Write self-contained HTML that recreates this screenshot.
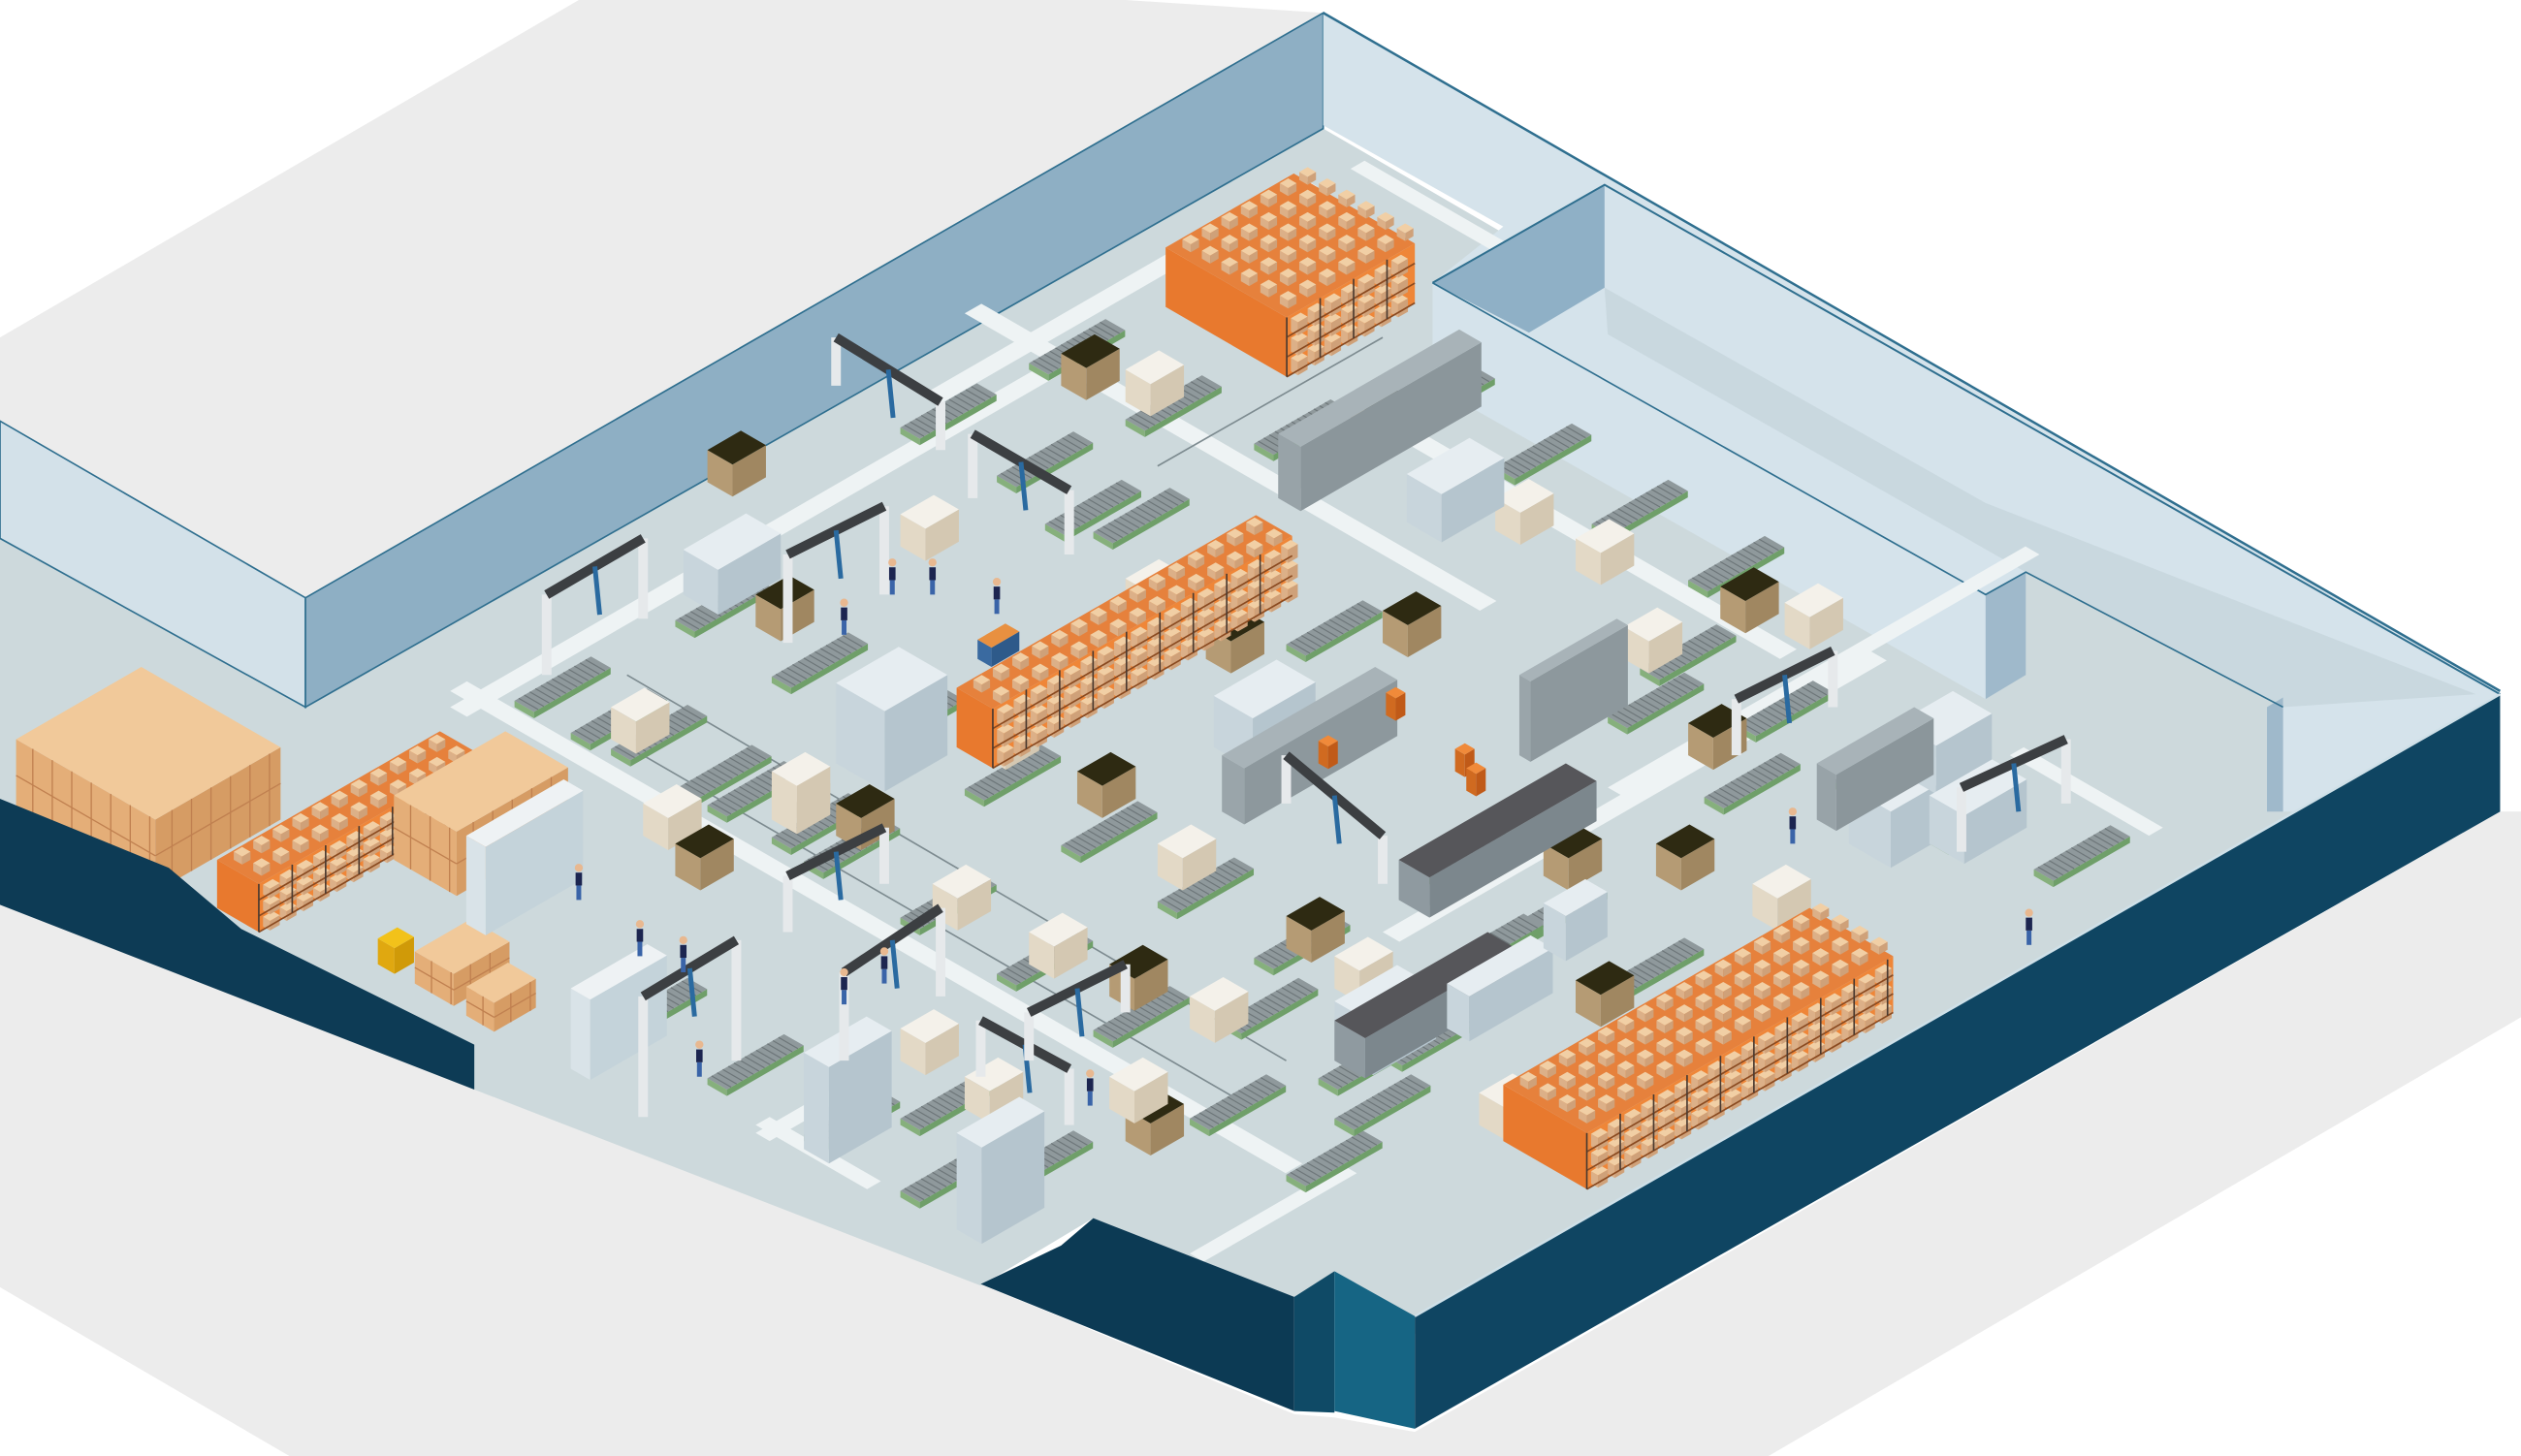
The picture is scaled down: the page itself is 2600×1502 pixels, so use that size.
<!DOCTYPE html>
<html><head><meta charset="utf-8"><style>
html,body{margin:0;padding:0;background:#fff;overflow:hidden}
svg{display:block}
</style></head><body>
<svg id="s" width="2600" height="1502" viewBox="0 0 1568 906" preserveAspectRatio="none" xmlns="http://www.w3.org/2000/svg">
<rect width="1568" height="906" fill="#ffffff"/>
<polygon points="0,210 360,0 700,0 823,8 190,372 0,262" fill="#ececec"/>
<polygon points="0,560 295,678 610,799 805,880 830,882 880,891 1555,505 1568,505 1568,633 1100,906 180,906 0,801" fill="#ececec"/>
<polygon points="0,330 190,440 823,80 1555,505 880,830 830,791 805,807 680,758 610,800 295,678 150,578 105,540 0,497" fill="#cdd9dc"/>
<polygon points="0,262 190,372 190,440 0,335" fill="#d3e1e9" stroke="#2f6f8f" stroke-width="1"/>
<polygon points="190,372 823,8 823,80 190,440" fill="#8eafc4" stroke="#2f6f8f" stroke-width="1"/>
<polygon points="823,8 1555,430 1555,505 1420,505 1420,440 1260,356 1235,370 1235,435 891,240 891,176 935,141 823,78" fill="#d5e3eb"/>
<polygon points="998,179 1235,313 1540,432 1420,440 1260,356 1000,208" fill="#c9d8df"/>
<polygon points="891,176 998,115 998,179 951,207" fill="#8fb0c6"/>
<polygon points="1235,370 1260,356 1260,420 1235,435" fill="#9fb9cb"/>
<polygon points="1410,440 1420,434 1420,505 1410,505" fill="#9fb9cb"/>
<polyline points="823,8 1555,430" fill="none" stroke="#2f6f8f" stroke-width="1.5"/>
<polyline points="891,176 998,115 1555,432" fill="none" stroke="#2f6f8f" stroke-width="1.2"/>
<polyline points="891,176 1235,370 1260,356 1420,440" fill="none" stroke="#2f6f8f" stroke-width="1"/>
<g id="g"></g>
<g id="fw">
<polygon points="0,497 105,540 150,578 295,650 295,678 0,563" fill="#0d3b55"/>
<polygon points="610,799 660,775 680,758 805,807 805,878" fill="#0c3a54"/>
<polygon points="805,807 830,791 830,879 805,878" fill="#0f4a66"/>
<polygon points="830,791 880,819 880,889 830,878" fill="#166584"/>
<polygon points="880,819 1555,432 1555,505 880,889" fill="#0f4562"/>
<polyline points="880,819 1555,432" stroke="#cfe0e8" stroke-width="1.5" fill="none"/>
</g>
</svg>
<script>
const NS="http://www.w3.org/2000/svg",g=document.getElementById('g');
const ux=0.866,uy=0.5,vx=0.866,vy=-0.5;
function poly(pts,f){const p=document.createElementNS(NS,'polygon');p.setAttribute('points',pts.map(a=>a[0].toFixed(1)+','+a[1].toFixed(1)).join(' '));p.setAttribute('fill',f);g.appendChild(p);}
function line(x1,y1,x2,y2,c,w){const l=document.createElementNS(NS,'line');l.setAttribute('x1',x1);l.setAttribute('y1',y1);l.setAttribute('x2',x2);l.setAttribute('y2',y2);l.setAttribute('stroke',c);l.setAttribute('stroke-width',w);g.appendChild(l);}
function box(x,y,w,d,h,top,left,right){
 const A=[x,y],B=[x+w*ux,y+w*uy],C=[B[0]+d*vx,B[1]+d*vy],D=[x+d*vx,y+d*vy];
 const up=p=>[p[0],p[1]-h];
 poly([A,B,up(B),up(A)],left);poly([B,C,up(C),up(B)],right);poly([up(A),up(B),up(C),up(D)],top);}
function flat(x,y,w,d,c){box(x,y,w,d,0,c,c,c);}
function au(x,y,len,wd){flat(x,y,len,wd,'#eef3f4');}
function av(x,y,len,wd){flat(x,y,wd,len,'#eef3f4');}
au(280,430,600,12);av(280,440,440,12);
au(600,195,370,12);au(830,250,320,12);av(860,580,350,12);
av(740,780,110,10);av(1000,490,300,10);av(575,245,270,12);
au(1250,470,100,10);au(840,105,100,10);av(470,705,70,10);
au(470,700,80,10);
line(390,420,800,660,'#7d8b90',1);line(400,470,780,690,'#7d8b90',1);line(720,290,860,210,'#7d8b90',1);
function conv(x,y,w,d){box(x,y,w,d,4,'#8f999c','#86b07c','#6f9f69');
 for(let i=3;i<d;i+=4){const p=[x+i*vx,y+i*vy-4];line(p[0],p[1],p[0]+w*ux,p[1]+w*uy,'#6d7679',0.7);}}
const cv=[[320,440],[355,460],[380,470],[420,495],[440,505],[480,525],[500,540],[560,575],[620,610],[680,645],[420,390],[480,425],[540,460],[600,495],[660,530],[720,565],[780,600],[380,640],[440,675],[500,710],[560,745],[620,300],[680,335],[740,370],[800,405],[870,260],[930,295],[990,330],[1050,365],[640,230],[700,265],[560,270],[760,640],[820,675],[880,545],[940,580],[1000,615],[1020,420],[1080,455],[1140,490],[1200,525],[1265,545],[740,700],[800,735],[860,660],[560,700],[620,735],[650,330],[830,700],[900,600],[780,280],[1000,450],[1060,500]];
cv.forEach(c=>conv(c[0],c[1],14,55));
const bx=[[380,460,'w'],[470,390,'d'],[560,340,'w'],[440,300,'d'],[700,380,'w'],[750,410,'d'],[610,470,'w'],[670,500,'d'],[720,545,'w'],[480,510,'w'],[520,520,'d'],[580,570,'w'],[640,600,'w'],[690,620,'d'],[740,640,'w'],[800,590,'d'],[830,615,'w'],[1010,410,'w'],[1070,385,'d'],[1110,395,'w'],[1050,470,'d'],[1030,545,'d'],[1090,570,'w'],[930,330,'w'],[980,355,'w'],[840,270,'d'],[700,250,'w'],[660,240,'d'],[860,400,'d'],[920,700,'w'],[980,630,'d'],[960,545,'d'],[400,520,'w'],[420,545,'d'],[560,660,'w'],[700,710,'d'],[690,690,'w'],[600,690,'w'],[480,500,'w']];
bx.forEach(b=>{if(b[2]=='w')box(b[0],b[1],18,24,20,'#f4f1ea','#e3d9c6','#d4c8b2');else box(b[0],b[1],18,24,20,'#2e2a12','#b59b74','#a08761');});
function rack(x,y,w,d,h){box(x,y,w,d,h,'#e6813c','#e8792e','#ef8638');
 const lv=3;
 for(let k=0;k<lv;k++){const yy=h*k/lv;
  for(let i=3;i<d-6;i+=12){const px=x+w*ux+i*vx,py=y+w*uy+i*vy-yy-2;box(px,py,5,7,h/lv-4,'#f1cfa5','#dcb088','#cfa179');}
  line(x+w*ux,y+w*uy-yy,x+w*ux+d*vx,y+w*uy+d*vy-yy,'#8a4a20',1);}
 for(let i=0;i<=d;i+=24){const px=x+w*ux+i*vx,py=y+w*uy+i*vy;line(px,py,px,py-h,'#4a3a30',1);}
 for(let a=6;a<w;a+=14)for(let i=6;i<d;i+=14){const px=x+a*ux+i*vx,py=y+a*uy+i*vy-h;box(px,py,6,6,5,'#f1cfa5','#dcb088','#cfa179');}}
rack(725,191,87,92,37);
rack(595,465,26,215,37);
rack(935,710,60,220,35);
rack(135,565,30,160,30);
function card(x,y,w,d,h){box(x,y,w,d,h,'#f1c99a','#e4ae78','#d69c64');
 for(let i=12;i<d;i+=14){const px=x+w*ux+i*vx,py=y+w*uy+i*vy;line(px,py,px,py-h,'#c08050',0.8);}
 for(let i=12;i<w;i+=14){const px=x+i*ux,py=y+i*uy;line(px,py,px,py-h,'#c08050',0.8);}
 line(x,y-h/2,x+w*ux,y+w*uy-h/2,'#c08050',0.8);line(x+w*ux,y+w*uy-h/2,x+w*ux+d*vx,y+w*uy+d*vy-h/2,'#c08050',0.8);}
card(10,505,100,90,45);card(245,535,45,80,40);card(258,612,28,40,20);card(290,632,20,30,18);
box(290,575,14,70,55,'#eef2f4','#d9e3e8','#c4d3da');box(355,665,14,55,50,'#eef2f4','#d9e3e8','#c4d3da');
function mach(x,y,w,d,h){box(x,y,w,d,h,'#e6edf1','#c8d5dc','#b5c5ce');}
mach(520,475,35,45,50);mach(500,715,18,45,60);mach(595,765,18,45,60);
mach(425,370,25,45,28);mach(755,465,28,45,32);mach(830,655,28,45,32);mach(1150,525,30,50,35);
mach(875,325,25,45,30);mach(1180,480,28,40,30);mach(1200,525,25,45,30);
box(760,505,16,110,35,'#a8b3b8','#9aa5aa','#8d989d');box(945,470,8,70,50,'#a8b3b8','#9aa5aa','#8d989d');
box(795,310,16,130,40,'#a8b3b8','#98a3a8','#8b969b');box(1130,510,14,70,35,'#a8b3b8','#98a3a8','#8b969b');
box(870,560,22,120,25,'#56565a','#8f9aa0','#7c878d');box(830,660,22,110,25,'#56565a','#8f9aa0','#7c878d');
mach(900,640,16,60,28);mach(960,590,16,30,28);
function gan(x1,y1,x2,y2,h){line(x1,y1,x1,y1-h,'#e6e9eb',6);line(x2,y2,x2,y2-h,'#e6e9eb',6);line(x1,y1-h,x2,y2-h,'#3c3f42',6);line((x1+x2)/2,(y1+y2)/2-h,(x1+x2)/2+3,(y1+y2)/2-h+30,'#2a6aa0',3);}
gan(340,420,400,385,50);gan(490,400,550,370,55);gan(520,240,585,280,30);gan(605,310,665,345,40);
gan(400,695,458,660,75);gan(490,580,550,550,35);gan(525,660,585,620,55);gan(610,670,665,700,35);gan(640,660,700,630,30);
gan(800,500,860,550,30);gan(1080,470,1140,440,35);gan(1220,530,1285,500,40);
const wk=[[360,560],[398,595],[425,605],[435,670],[525,625],[555,370],[580,370],[620,382],[525,395],[678,688],[1115,525],[1262,588],[550,612]];
wk.forEach(w=>{line(w[0],w[1],w[0],w[1]-9,'#3a64a8',3);line(w[0],w[1]-9,w[0],w[1]-17,'#1c2550',4);const c=document.createElementNS(NS,'circle');c.setAttribute('cx',w[0]);c.setAttribute('cy',w[1]-20);c.setAttribute('r',2.5);c.setAttribute('fill','#e8b890');g.appendChild(c);});
box(235,600,12,14,16,'#f2c21a','#e0a810','#d09a08');
[[820,475],[862,445],[905,480],[912,492]].forEach(r=>box(r[0],r[1],7,7,14,'#f08a3a','#d06a20','#c05a18'));
box(608,410,10,20,12,'#e89040','#3a6aa0','#2e5a8a');
</script>
</body></html>
